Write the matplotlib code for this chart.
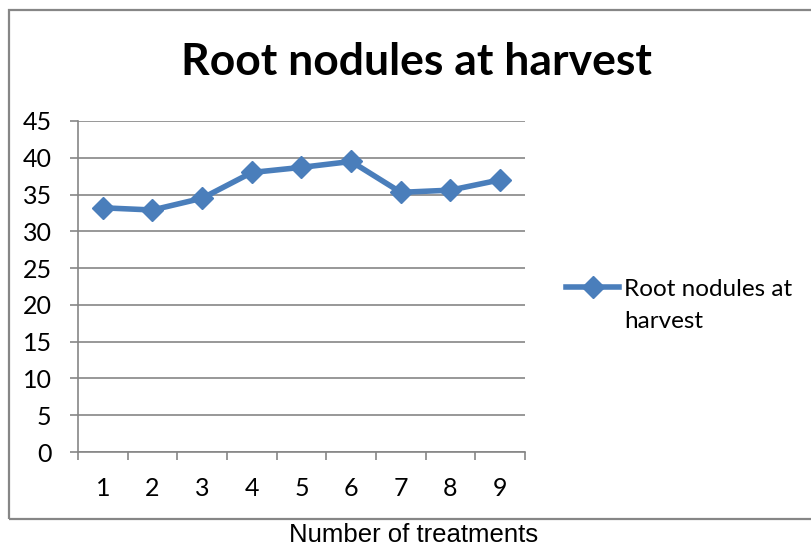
import matplotlib
matplotlib.use("Agg")
import matplotlib.pyplot as plt
from matplotlib.patches import Rectangle

# data
treatments = [1, 2, 3, 4, 5, 6, 7, 8, 9]
nodules = [33.2, 32.9, 34.5, 38.0, 38.7, 39.5, 35.3, 35.6, 37.0]
y_ticks = [0, 5, 10, 15, 20, 25, 30, 35, 40, 45]
series_name = ['Root nodules at', 'harvest']

blue = '#4a7ebb'
grey = '#868686'

fig = plt.figure(figsize=(8.12, 5.49), dpi=100)
ax = fig.add_axes([78 / 812, 1 - 452 / 549, (525 - 78) / 812, (452 - 121) / 549])

ax.plot(treatments, nodules, color=blue, lw=4, marker='D', ms=11,
        markeredgecolor=blue, label=series_name[0])

ax.set_xlim(0.5, 9.5)
ax.set_ylim(0, 45)
ax.set_yticks(y_ticks)
ax.set_xticks(treatments)
ax.set_xticks([t + 0.5 for t in [0] + treatments], minor=True)
ax.yaxis.grid(True, color=grey, lw=1.2)
ax.set_axisbelow(True)
for s in ['top', 'right']:
    ax.spines[s].set_visible(False)
for s in ['left', 'bottom']:
    ax.spines[s].set_color(grey)
    ax.spines[s].set_linewidth(1.2)
ax.tick_params(axis='y', length=6, color=grey, width=1.2, labelsize=18, pad=13)
ax.tick_params(axis='x', which='major', length=0, labelsize=18, pad=18)
ax.tick_params(axis='x', which='minor', length=6, color=grey, width=1.2)
for lab in ax.get_xticklabels() + ax.get_yticklabels():
    lab.set_fontfamily('Lato')

fig.text(416 / 812, 1 - 62 / 549, 'Root nodules at harvest', ha='center', va='center',
         fontsize=32, fontweight='bold', family='Lato')
fig.text(414 / 812, 1 - 535 / 549, 'Number of treatments', ha='center', va='center',
         fontsize=18.5, family='Liberation Sans')

# legend: first line with the handle, second line of the name underneath
leg = fig.legend(loc='center left', bbox_to_anchor=(566 / 812, 1 - 289 / 549),
                 frameon=False, prop={'family': 'Lato', 'size': 17.5},
                 handlelength=2.2, handletextpad=0.2, borderpad=0, borderaxespad=0)
fig.text(624 / 812, 1 - 322 / 549, series_name[1], ha='left', va='center',
         fontsize=17.5, family='Lato')

fig.add_artist(Rectangle((9 / 812, 1 - 519 / 549), 1.0, (519 - 10) / 549,
                         transform=fig.transFigure, fill=False, ec=grey, lw=1.6))

plt.savefig('out.png', dpi=100)
plt.close()
